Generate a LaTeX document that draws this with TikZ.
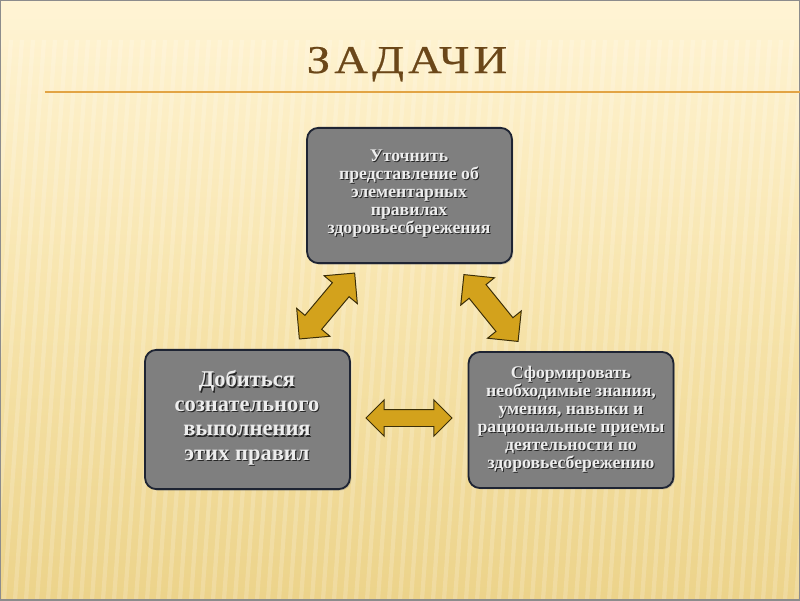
\documentclass[tikz,border=0pt]{standalone}
\usepackage{fontspec}
\setmainfont{Liberation Serif}
\newfontfamily\titlefont[FakeStretch=1.18, LetterSpace=11, FakeBold=0.6]{Liberation Serif}
\usetikzlibrary{shapes.arrows, positioning, calc, shadows}

\definecolor{bgtop}{HTML}{FFF4D4}
\definecolor{bgmid}{HTML}{F7E4AC}
\definecolor{bgbot}{HTML}{ECD38A}
\definecolor{titlebrown}{HTML}{6B4719}
\definecolor{rulegold}{HTML}{E2A444}
\definecolor{boxgray}{HTML}{7F7F7F}
\definecolor{boxedge}{HTML}{1E2433}
\definecolor{arrowgold}{HTML}{D3A21C}
\definecolor{arrowedge}{HTML}{3B2E08}
\definecolor{textlight}{HTML}{EDEDED}

\begin{document}
\begin{tikzpicture}[
        x=0.025cm, y=-0.025cm,
        task/.style={rectangle, rounded corners=8pt, draw=boxedge, line width=1.3pt, fill=boxgray,
            minimum width=5.12cm, minimum height=3.4cm,
            drop shadow={opacity=0.35, shadow xshift=1pt, shadow yshift=-1pt}},
        txt/.style={align=center, text=textlight, inner sep=0pt},
        txtshadow/.style={align=center, text=black!85, inner sep=0pt},
        small/.style={font=\bfseries\fontsize{12.6}{12.8}\selectfont},
        large/.style={font=\bfseries\fontsize{16}{17.4}\selectfont},
        stripe/.style={white, opacity=0.18, line width=3pt},
        dblarrow/.style={double arrow, draw=arrowedge, fill=arrowgold, line width=0.7pt,
            inner xsep=0pt, inner ysep=0.2cm, text height=0pt, text depth=0pt,
            minimum height=2.15cm, double arrow head extend=0.24cm},
        diagarrow/.style={dblarrow, inner ysep=0.26cm, double arrow head extend=0.27cm}
    ]
    \useasboundingbox (0,0) rectangle (800,600);
    % Background
    \shade[top color=bgtop, bottom color=bgbot, middle color=bgmid] (0,0) rectangle (800,600);
    \begin{scope}
        \clip (0,0) rectangle (800,600);
        \foreach \x in {-150,-139,...,850}
            \draw[stripe] (\x+40,40) -- (\x,600);
    \end{scope}
    \fill[bgtop, opacity=0.6] (0,0) rectangle (800,30);
    \draw[black!45, line width=0.8pt] (0,0) rectangle (800,600);

    % Title
    \node[anchor=base, text=titlebrown, font=\titlefont\fontsize{28}{32}\selectfont] (title) at (407,73) {ЗАДАЧИ};
    \coordinate (ruleL) at (45,92);
    \coordinate (ruleR) at (800,92);
    \draw[rulegold, line width=1.4pt] (ruleL) -- (ruleR);

    % Boxes
    \node[task, minimum height=3.38cm] (top) at (409.5,195.5) {};
    \node[task, minimum height=3.48cm] (left) at (247.5,419.5) {};
    \node[task, minimum height=3.4cm] (right) at (571,420) {};

    % Texts
    \node[txtshadow, small] (topS) at ($(409,194)+(0.7pt,-0.7pt)$) {Уточнить\\представление об\\элементарных\\правилах\\здоровьесбережения};
    \node[txt, small] (topT) at (409,194) {Уточнить\\представление об\\элементарных\\правилах\\здоровьесбережения};

    \node[txtshadow, large] (leftS) at ($(247,418)+(0.8pt,-0.8pt)$) {Добиться\\сознательного\\выполнения\\этих правил};
    \node[txt, large] (leftT) at (247,418) {Добиться\\сознательного\\выполнения\\этих правил};

    \node[txtshadow, small] (rightS) at ($(571,419)+(0.7pt,-0.7pt)$) {Сформировать\\необходимые знания,\\умения, навыки и\\рациональные приемы\\деятельности по\\здоровьесбережению};
    \node[txt, small] (rightT) at (571,419) {Сформировать\\необходимые знания,\\умения, навыки и\\рациональные приемы\\деятельности по\\здоровьесбережению};

    % Arrows
    \node[diagarrow, rotate=50] (arrLT) at (327,306) {};
    \node[diagarrow, rotate=-51] (arrRT) at (491,308) {};
    \node[dblarrow] (arrLR) at (409,418) {};
\end{tikzpicture}
\end{document}
